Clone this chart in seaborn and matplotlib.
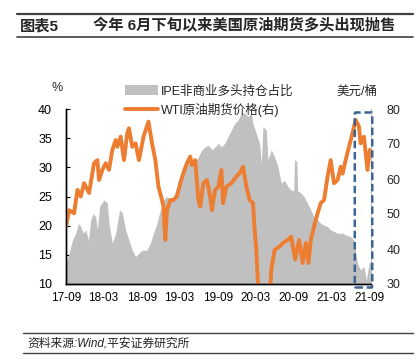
import numpy as np
import pandas as pd
import seaborn as sns
import matplotlib.pyplot as plt
import matplotlib.dates as mdates
from matplotlib.patches import FancyBboxPatch
from matplotlib.lines import Line2D
from matplotlib.patches import Patch

# IPE 非商业多头持仓占比 (%), 左轴
ipe_dates = ['2017-09-01', '2017-09-16', '2017-10-02', '2017-10-18', '2017-10-31', '2017-11-11',
             '2017-11-23', '2017-12-05', '2017-12-18', '2017-12-29', '2018-01-10', '2018-01-22',
             '2018-01-30', '2018-02-10', '2018-03-03', '2018-03-19', '2018-03-27', '2018-04-12',
             '2018-04-28', '2018-05-17', '2018-05-30', '2018-06-15', '2018-07-01', '2018-07-17',
             '2018-08-02', '2018-08-18', '2018-09-03', '2018-09-26', '2018-10-12', '2018-10-27',
             '2018-11-13', '2018-11-29', '2018-12-14', '2018-12-31', '2019-01-16', '2019-01-31',
             '2019-02-17', '2019-03-05', '2019-03-20', '2019-04-06', '2019-04-22', '2019-05-07',
             '2019-05-24', '2019-06-17', '2019-07-03', '2019-07-18', '2019-08-04', '2019-08-20',
             '2019-09-04', '2019-09-19', '2019-10-05', '2019-10-21', '2019-11-06', '2019-11-22',
             '2019-12-08', '2019-12-24', '2020-01-09', '2020-01-25', '2020-02-10', '2020-02-18',
             '2020-03-05', '2020-03-21', '2020-03-29', '2020-04-06', '2020-04-22', '2020-04-30',
             '2020-05-16', '2020-06-01', '2020-06-17', '2020-07-03', '2020-07-19', '2020-08-04',
             '2020-08-20', '2020-09-01', '2020-09-05', '2020-09-16', '2020-09-20', '2020-10-05',
             '2020-10-21', '2020-11-07', '2020-11-22', '2020-12-08', '2020-12-25', '2021-01-09',
             '2021-01-25', '2021-02-11', '2021-02-26', '2021-03-14', '2021-03-31', '2021-04-24',
             '2021-05-09', '2021-06-02', '2021-06-18', '2021-07-05', '2021-07-20', '2021-08-05',
             '2021-08-17', '2021-08-29', '2021-09-06']
ipe_share = [13.5, 15.3, 17.5, 18.7, 20.4, 19.8,
             18.7, 19.3, 17.5, 21.0, 22.1, 21.5,
             19.3, 23.3, 24.4, 23.9, 20.4, 17.0,
             18.7, 22.7, 22.2, 19.3, 17.5, 15.8,
             14.7, 15.3, 15.8, 15.8, 17.0, 18.7,
             20.4, 22.7, 24.4, 25.0, 24.4, 25.0,
             26.7, 28.4, 29.5, 30.7, 31.3, 30.7,
             31.3, 33.0, 33.5, 33.8, 33.0, 33.5,
             34.1, 33.5, 34.1, 35.3, 36.4, 37.5,
             38.1, 39.3, 39.3, 38.7, 39.3, 37.5,
             35.8, 34.1, 30.7, 37.0, 36.4, 31.3,
             33.0, 31.8, 30.1, 27.3, 27.8, 26.7,
             26.1, 26.0, 31.3, 31.0, 26.0, 25.6,
             25.0, 23.8, 22.7, 21.5, 21.0, 20.4,
             20.1, 19.8, 19.3, 19.0, 18.7, 18.7,
             18.4, 18.1, 17.5, 13.5, 12.4, 13.0,
             10.7, 13.5, 14.0]

# WTI 原油期货价格 (美元/桶), 右轴
wti_dates = ['2017-09-01', '2017-09-16', '2017-10-10', '2017-10-26', '2017-11-11', '2017-11-27',
             '2017-12-21', '2018-01-14', '2018-01-30', '2018-02-07', '2018-02-23', '2018-03-11',
             '2018-03-27', '2018-04-12', '2018-04-28', '2018-05-06', '2018-05-22', '2018-06-07',
             '2018-06-23', '2018-07-01', '2018-07-17', '2018-08-02', '2018-08-18', '2018-09-03',
             '2018-09-09', '2018-10-03', '2018-10-20', '2018-11-05', '2018-11-20', '2018-12-07',
             '2018-12-14', '2018-12-23', '2018-12-31', '2019-01-16', '2019-01-31', '2019-02-17',
             '2019-03-05', '2019-03-20', '2019-04-06', '2019-04-22', '2019-04-30', '2019-05-16',
             '2019-05-31', '2019-06-09', '2019-06-24', '2019-07-11', '2019-07-27', '2019-08-04',
             '2019-08-20', '2019-09-04', '2019-09-19', '2019-09-27', '2019-10-13', '2019-11-06',
             '2019-11-30', '2019-12-16', '2020-01-01', '2020-01-17', '2020-02-02', '2020-02-18',
             '2020-02-26', '2020-03-05', '2020-03-13', '2020-03-25', '2020-04-20', '2020-05-08',
             '2020-05-16', '2020-06-01', '2020-06-25', '2020-07-11', '2020-08-04', '2020-08-20',
             '2020-09-08', '2020-09-27', '2020-10-14', '2020-10-29', '2020-11-11', '2020-11-22',
             '2020-12-08', '2020-12-25', '2021-01-09', '2021-01-25', '2021-02-11', '2021-02-26',
             '2021-03-14', '2021-03-31', '2021-04-15', '2021-04-24', '2021-05-09', '2021-05-25',
             '2021-06-11', '2021-06-26', '2021-07-12', '2021-07-20', '2021-08-05', '2021-08-22',
             '2021-09-02']
wti_price = [46.4, 51.1, 50.2, 56.9, 55.0, 58.8,
             56.0, 64.5, 65.4, 59.7, 62.6, 64.5,
             62.6, 68.3, 71.1, 69.2, 72.1, 65.4,
             73.1, 74.5, 69.2, 70.2, 65.4, 70.2,
             72.1, 76.4, 70.2, 65.4, 57.8, 54.0,
             52.1, 42.6, 51.1, 54.0, 54.0, 55.0,
             58.8, 61.7, 64.5, 66.4, 64.0, 65.4,
             54.0, 52.1, 58.8, 59.7, 55.0, 51.1,
             56.9, 57.8, 62.6, 53.1, 57.8, 58.8,
             60.7, 61.7, 63.5, 57.8, 54.0, 53.1,
             45.4, 39.7, 30.0, 20.0, 15.0, 25.0,
             34.0, 39.7, 40.7, 41.7, 42.6, 43.5,
             37.0, 42.6, 36.0, 41.7, 36.0, 42.6,
             46.4, 50.2, 53.1, 54.0, 60.7, 65.4,
             58.8, 59.7, 63.5, 61.5, 65.4, 69.2,
             73.1, 76.9, 75.0, 70.2, 72.1, 62.6,
             68.3]

ticks = pd.date_range('2017-09-01', '2021-09-01', freq='6MS')
box_span = ('2021-06-22', '2021-09-14')

ipe = pd.DataFrame({'date': pd.to_datetime(ipe_dates), 'share': ipe_share})
wti = pd.DataFrame({'date': pd.to_datetime(wti_dates), 'price': wti_price})

sns.set_theme(style='ticks')
plt.rcParams['font.family'] = ['Liberation Sans', 'Noto Sans CJK SC']
plt.rcParams['axes.unicode_minus'] = False

grey = '#c0c0c0'
orange = '#ed7d31'

fig = plt.figure(figsize=(4.19, 3.62), dpi=100)
ax = fig.add_axes([66 / 419, 78 / 362, 305 / 419, 175 / 362])
ax2 = ax.twinx()

ax.fill_between(ipe['date'], ipe['share'], 10, color=grey, lw=0)
sns.lineplot(data=wti, x='date', y='price', ax=ax2, color=orange, lw=2.8, legend=False)

ax.set_ylim(10, 40)
ax.set_yticks(np.arange(10, 41, 5))
ax2.set_ylim(30, 80)
ax2.set_yticks(np.arange(30, 81, 10))
ax.set_xlim(pd.Timestamp('2017-09-01'), pd.Timestamp('2021-09-08'))
ax.set_xticks(ticks)
ax.set_xticklabels([t.strftime('%y-%m') for t in ticks])
ax.set_xlabel('')
ax.set_ylabel('')
ax2.set_xlabel('')
ax2.set_ylabel('')

ax.tick_params(axis='both', direction='in', length=3, width=0.8, colors='black', labelsize=9)
ax.tick_params(axis='x', labelsize=8.5, pad=6)
ax.tick_params(axis='y', pad=10)
ax2.tick_params(axis='y', length=0, labelsize=9, pad=11)
for a in (ax, ax2):
    a.spines['top'].set_visible(False)
    a.spines['left'].set_color('black')
    a.spines['bottom'].set_color('black')
    a.spines['left'].set_linewidth(1.0)
    a.spines['bottom'].set_linewidth(1.0)
ax.spines['right'].set_visible(False)
ax2.spines['right'].set_color(grey)
ax2.spines['right'].set_linewidth(0.8)

# dashed box marking the recent sell-off
x0 = mdates.date2num(pd.Timestamp(box_span[0]))
x1 = mdates.date2num(pd.Timestamp(box_span[1]))
box = FancyBboxPatch((x0, 29.0), x1 - x0, 50.0, boxstyle='round,pad=0,rounding_size=3',
                     mutation_aspect=0.25, fill=False, edgecolor='#3c6391', lw=1.8,
                     linestyle=(0, (3, 1.5)), clip_on=False, zorder=5)
ax2.add_patch(box)

fig.text(57 / 419, 1 - 88 / 362, '%', fontsize=9, ha='center', va='center')
fig.text(357 / 419, 1 - 92 / 362, '美元/桶', fontsize=9, ha='center', va='center')

handles = [Patch(facecolor=grey, edgecolor='none'),
           Line2D([0], [0], color=orange, lw=2.8)]
fig.legend(handles, ['IPE非商业多头持仓占比', 'WTI原油期货价格(右)'],
           loc='upper left', bbox_to_anchor=(125 / 419, 1 - 85 / 362), frameon=False,
           fontsize=9, handlelength=2.6, handleheight=0.9, handletextpad=0.3,
           labelspacing=0.45, borderpad=0, borderaxespad=0)

# header and footer
fig.add_artist(Line2D([17 / 419, 413 / 419], [1 - 14 / 362] * 2, color='#404040', lw=1.6))
fig.add_artist(Line2D([17 / 419, 413 / 419], [1 - 37 / 362] * 2, color='#404040', lw=1.2))
fig.text(20 / 419, 1 - 26 / 362, '图表5', fontsize=11, fontweight='bold', va='center')
fig.text(93 / 419, 1 - 26 / 362, '今年 6月下旬以来美国原油期货多头出现抛售',
         fontsize=11, fontweight='bold', va='center')
fig.add_artist(Line2D([23 / 419, 413 / 419], [1 - 333 / 362] * 2, color='#404040', lw=1.0))
fig.add_artist(Line2D([23 / 419, 413 / 419], [1 - 353 / 362] * 2, color='#404040', lw=1.0))
fig.text(27 / 419, 1 - 343 / 362, '资料来源:Wind,平安证券研究所', fontsize=8.5,
         style='italic', va='center', color='#222222')

fig.savefig('out.png', dpi=100)
